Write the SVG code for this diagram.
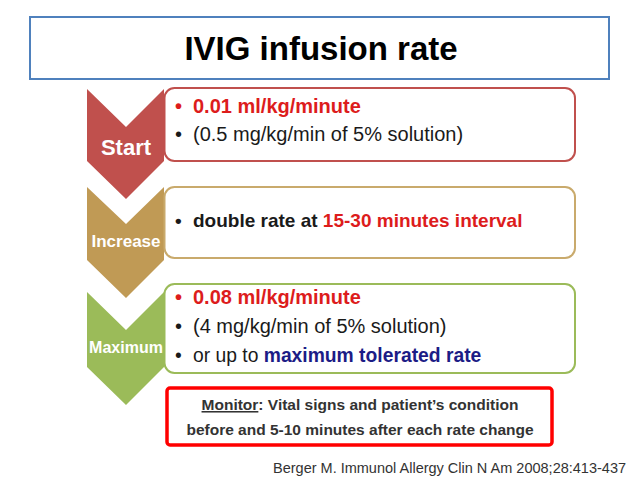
<svg xmlns="http://www.w3.org/2000/svg" width="638" height="479" viewBox="0 0 638 479">
<style>
text{font-family:"Liberation Sans",Arial,sans-serif}
.chev{font-weight:bold;fill:#fff;text-anchor:middle}
.bx{fill:#fff;stroke-width:2}
.b{font-size:20px;fill:#1a1a1a}
.b19{font-size:19px}
.red{fill:#dd1c1c;font-weight:bold}
.navy{fill:#1c1c86;font-weight:bold}
.bold{font-weight:bold}
.mon{font-size:15.5px;font-weight:bold;fill:#333;text-anchor:middle}
</style>
<rect width="638" height="479" fill="#fff"/>
<g id="title">
<rect x="30" y="17" width="579" height="62" fill="#fff" stroke="#4f81bd" stroke-width="2"/>
<text x="321" y="60" font-size="33" font-weight="bold" fill="#000" text-anchor="middle">IVIG infusion rate</text>
</g>
<g id="start">
<polygon points="87,89 126,127 164,89 164,161 126,199 87,161" fill="#c0504d"/>
<text class="chev" x="126" y="155" font-size="22">Start</text>
<rect class="bx" x="164.5" y="88" width="410.5" height="73" rx="10" stroke="#c0504d"/>
<text class="b" x="175" y="113"><tspan class="red">•</tspan><tspan class="red" x="193">0.01 ml/kg/minute</tspan></text>
<text class="b" x="175" y="141">•<tspan x="193">(0.5 mg/kg/min of 5% solution)</tspan></text>
</g>
<g id="increase">
<polygon points="87,187 126,224 164,187 164,260 126,298 87,260" fill="#c09a55"/>
<text class="chev" x="126" y="247" font-size="17">Increase</text>
<rect class="bx" x="164.5" y="187" width="410.5" height="71" rx="10" stroke="#c9aa6c"/>
<text class="b b19 bold" x="175" y="227" style="font-size:19px">•<tspan x="193">double rate at </tspan><tspan class="red">15-30 minutes interval</tspan></text>
</g>
<g id="maximum">
<polygon points="87,292 126,330 164,292 164,367 126,405 87,367" fill="#9bbb59"/>
<text class="chev" x="126" y="353" font-size="16">Maximum</text>
<rect class="bx" x="164.5" y="284" width="410.5" height="89" rx="10" stroke="#9bbb59"/>
<text class="b" x="175" y="304"><tspan class="red">•</tspan><tspan class="red" x="193">0.08 ml/kg/minute</tspan></text>
<text class="b" x="175" y="333">•<tspan x="193">(4 mg/kg/min of 5% solution)</tspan></text>
<text class="b" x="175" y="362" style="font-size:19.3px">•<tspan x="193">or up to </tspan><tspan class="navy">maximum tolerated rate</tspan></text>
</g>
<g id="monitor">
<rect x="167" y="388" width="385" height="57" rx="3" fill="#fff" stroke="#ff0000" stroke-width="3.5"/>
<text class="mon" x="360" y="410"><tspan text-decoration="underline">Monitor</tspan>: Vital signs and patient’s condition</text>
<text class="mon" x="360" y="435">before and 5-10 minutes after each rate change</text>
</g>
<g id="citation">
<text x="273" y="473" font-size="14.5" fill="#333">Berger M. Immunol Allergy Clin N Am 2008;28:413-437</text>
</g>
<g id="connectors"/>
</svg>
